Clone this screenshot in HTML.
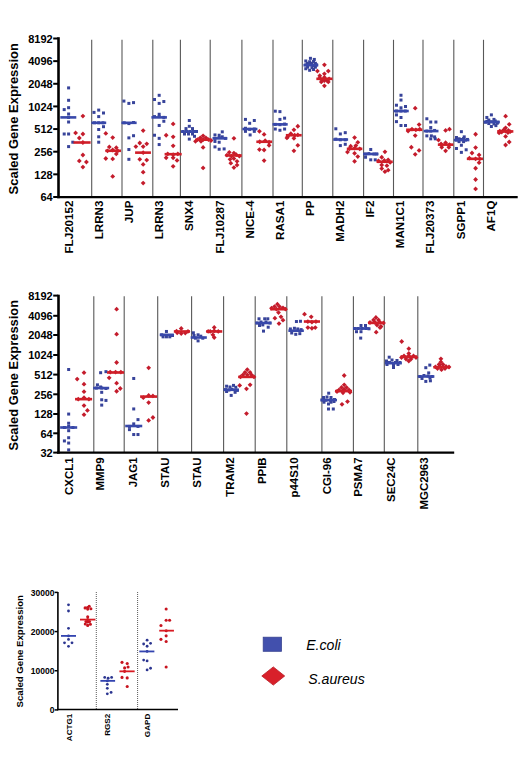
<!DOCTYPE html>
<html><head><meta charset="utf-8"><style>
html,body{margin:0;padding:0;background:#fff;width:520px;height:773px;overflow:hidden;}
svg{display:block;font-family:"Liberation Sans",sans-serif;}
</style></head><body>
<svg width="520" height="773" viewBox="0 0 520 773" font-family="Liberation Sans, sans-serif">
<rect width="520" height="773" fill="#fff"/>
<line x1="91.70" y1="39.80" x2="91.70" y2="197.00" stroke="#585858" stroke-width="1.1" />
<line x1="122.00" y1="39.80" x2="122.00" y2="197.00" stroke="#585858" stroke-width="1.1" />
<line x1="152.80" y1="39.80" x2="152.80" y2="197.00" stroke="#585858" stroke-width="1.1" />
<line x1="180.40" y1="39.80" x2="180.40" y2="197.00" stroke="#585858" stroke-width="1.1" />
<line x1="210.20" y1="39.80" x2="210.20" y2="197.00" stroke="#585858" stroke-width="1.1" />
<line x1="241.90" y1="39.80" x2="241.90" y2="197.00" stroke="#585858" stroke-width="1.1" />
<line x1="273.00" y1="39.80" x2="273.00" y2="197.00" stroke="#585858" stroke-width="1.1" />
<line x1="302.30" y1="39.80" x2="302.30" y2="197.00" stroke="#585858" stroke-width="1.1" />
<line x1="332.80" y1="39.80" x2="332.80" y2="197.00" stroke="#585858" stroke-width="1.1" />
<line x1="363.60" y1="39.80" x2="363.60" y2="197.00" stroke="#585858" stroke-width="1.1" />
<line x1="393.50" y1="39.80" x2="393.50" y2="197.00" stroke="#585858" stroke-width="1.1" />
<line x1="423.00" y1="39.80" x2="423.00" y2="197.00" stroke="#585858" stroke-width="1.1" />
<line x1="453.80" y1="39.80" x2="453.80" y2="197.00" stroke="#585858" stroke-width="1.1" />
<line x1="483.50" y1="39.80" x2="483.50" y2="197.00" stroke="#585858" stroke-width="1.1" />
<rect x="67.10" y="86.40" width="3.0" height="3.0" fill="#37439a"/>
<rect x="67.10" y="98.80" width="3.0" height="3.0" fill="#37439a"/>
<rect x="62.70" y="108.10" width="3.0" height="3.0" fill="#37439a"/>
<rect x="67.10" y="106.20" width="3.0" height="3.0" fill="#37439a"/>
<rect x="67.10" y="112.50" width="3.0" height="3.0" fill="#37439a"/>
<rect x="67.10" y="115.90" width="3.0" height="3.0" fill="#37439a"/>
<rect x="67.10" y="120.50" width="3.0" height="3.0" fill="#37439a"/>
<rect x="62.70" y="132.50" width="3.0" height="3.0" fill="#37439a"/>
<rect x="67.10" y="132.50" width="3.0" height="3.0" fill="#37439a"/>
<rect x="71.30" y="140.70" width="3.0" height="3.0" fill="#37439a"/>
<rect x="67.10" y="145.10" width="3.0" height="3.0" fill="#37439a"/>
<path d="M82.90 113.70L85.30 116.10L82.90 118.50L80.50 116.10Z" fill="#c41c2c"/>
<path d="M75.60 130.50L78.00 132.90L75.60 135.30L73.20 132.90Z" fill="#c41c2c"/>
<path d="M82.90 131.60L85.30 134.00L82.90 136.40L80.50 134.00Z" fill="#c41c2c"/>
<path d="M79.30 135.60L81.70 138.00L79.30 140.40L76.90 138.00Z" fill="#c41c2c"/>
<path d="M82.90 140.10L85.30 142.50L82.90 144.90L80.50 142.50Z" fill="#c41c2c"/>
<path d="M82.90 152.60L85.30 155.00L82.90 157.40L80.50 155.00Z" fill="#c41c2c"/>
<path d="M79.30 158.50L81.70 160.90L79.30 163.30L76.90 160.90Z" fill="#c41c2c"/>
<path d="M86.40 159.60L88.80 162.00L86.40 164.40L84.00 162.00Z" fill="#c41c2c"/>
<path d="M82.90 164.70L85.30 167.10L82.90 169.50L80.50 167.10Z" fill="#c41c2c"/>
<rect x="97.20" y="108.60" width="3.0" height="3.0" fill="#37439a"/>
<rect x="92.50" y="110.90" width="3.0" height="3.0" fill="#37439a"/>
<rect x="102.00" y="111.50" width="3.0" height="3.0" fill="#37439a"/>
<rect x="97.20" y="115.10" width="3.0" height="3.0" fill="#37439a"/>
<rect x="97.20" y="121.30" width="3.0" height="3.0" fill="#37439a"/>
<rect x="93.00" y="121.30" width="3.0" height="3.0" fill="#37439a"/>
<rect x="101.50" y="121.30" width="3.0" height="3.0" fill="#37439a"/>
<rect x="102.00" y="125.20" width="3.0" height="3.0" fill="#37439a"/>
<rect x="97.20" y="128.00" width="3.0" height="3.0" fill="#37439a"/>
<rect x="97.20" y="135.30" width="3.0" height="3.0" fill="#37439a"/>
<rect x="97.20" y="140.70" width="3.0" height="3.0" fill="#37439a"/>
<path d="M105.80 131.00L108.20 133.40L105.80 135.80L103.40 133.40Z" fill="#c41c2c"/>
<path d="M112.70 135.20L115.10 137.60L112.70 140.00L110.30 137.60Z" fill="#c41c2c"/>
<path d="M109.30 144.50L111.70 146.90L109.30 149.30L106.90 146.90Z" fill="#c41c2c"/>
<path d="M116.30 145.30L118.70 147.70L116.30 150.10L113.90 147.70Z" fill="#c41c2c"/>
<path d="M107.50 148.40L109.90 150.80L107.50 153.20L105.10 150.80Z" fill="#c41c2c"/>
<path d="M112.70 147.60L115.10 150.00L112.70 152.40L110.30 150.00Z" fill="#c41c2c"/>
<path d="M117.80 148.40L120.20 150.80L117.80 153.20L115.40 150.80Z" fill="#c41c2c"/>
<path d="M116.30 151.50L118.70 153.90L116.30 156.30L113.90 153.90Z" fill="#c41c2c"/>
<path d="M105.80 156.10L108.20 158.50L105.80 160.90L103.40 158.50Z" fill="#c41c2c"/>
<path d="M112.70 156.50L115.10 158.90L112.70 161.30L110.30 158.90Z" fill="#c41c2c"/>
<path d="M112.70 174.00L115.10 176.40L112.70 178.80L110.30 176.40Z" fill="#c41c2c"/>
<rect x="122.40" y="99.57" width="3.0" height="3.0" fill="#37439a"/>
<rect x="127.37" y="101.90" width="3.0" height="3.0" fill="#37439a"/>
<rect x="132.03" y="101.12" width="3.0" height="3.0" fill="#37439a"/>
<rect x="122.71" y="121.32" width="3.0" height="3.0" fill="#37439a"/>
<rect x="127.37" y="122.09" width="3.0" height="3.0" fill="#37439a"/>
<rect x="132.03" y="121.00" width="3.0" height="3.0" fill="#37439a"/>
<rect x="127.37" y="136.38" width="3.0" height="3.0" fill="#37439a"/>
<rect x="132.03" y="134.21" width="3.0" height="3.0" fill="#37439a"/>
<rect x="127.37" y="148.03" width="3.0" height="3.0" fill="#37439a"/>
<rect x="127.37" y="157.82" width="3.0" height="3.0" fill="#37439a"/>
<path d="M143.17 128.18L145.57 130.58L143.17 132.98L140.77 130.58Z" fill="#c41c2c"/>
<path d="M139.75 140.61L142.15 143.01L139.75 145.41L137.35 143.01Z" fill="#c41c2c"/>
<path d="M146.74 141.39L149.14 143.79L146.74 146.19L144.34 143.79Z" fill="#c41c2c"/>
<path d="M135.86 144.18L138.26 146.58L135.86 148.98L133.46 146.58Z" fill="#c41c2c"/>
<path d="M143.17 144.18L145.57 146.58L143.17 148.98L140.77 146.58Z" fill="#c41c2c"/>
<path d="M143.17 150.24L145.57 152.64L143.17 155.04L140.77 152.64Z" fill="#c41c2c"/>
<path d="M139.75 156.92L142.15 159.32L139.75 161.72L137.35 159.32Z" fill="#c41c2c"/>
<path d="M146.74 157.70L149.14 160.10L146.74 162.50L144.34 160.10Z" fill="#c41c2c"/>
<path d="M143.17 162.05L145.57 164.45L143.17 166.85L140.77 164.45Z" fill="#c41c2c"/>
<path d="M143.17 169.81L145.57 172.21L143.17 174.61L140.77 172.21Z" fill="#c41c2c"/>
<path d="M143.17 180.69L145.57 183.09L143.17 185.49L140.77 183.09Z" fill="#c41c2c"/>
<rect x="157.67" y="93.82" width="3.0" height="3.0" fill="#37439a"/>
<rect x="153.00" y="98.01" width="3.0" height="3.0" fill="#37439a"/>
<rect x="162.33" y="100.03" width="3.0" height="3.0" fill="#37439a"/>
<rect x="157.67" y="101.90" width="3.0" height="3.0" fill="#37439a"/>
<rect x="157.67" y="112.77" width="3.0" height="3.0" fill="#37439a"/>
<rect x="153.00" y="115.10" width="3.0" height="3.0" fill="#37439a"/>
<rect x="157.67" y="115.10" width="3.0" height="3.0" fill="#37439a"/>
<rect x="162.33" y="115.88" width="3.0" height="3.0" fill="#37439a"/>
<rect x="162.33" y="119.76" width="3.0" height="3.0" fill="#37439a"/>
<rect x="157.67" y="123.96" width="3.0" height="3.0" fill="#37439a"/>
<rect x="153.00" y="133.74" width="3.0" height="3.0" fill="#37439a"/>
<rect x="157.67" y="136.85" width="3.0" height="3.0" fill="#37439a"/>
<rect x="157.67" y="143.06" width="3.0" height="3.0" fill="#37439a"/>
<path d="M173.15 121.50L175.55 123.90L173.15 126.30L170.75 123.90Z" fill="#c41c2c"/>
<path d="M166.16 132.84L168.56 135.24L166.16 137.64L163.76 135.24Z" fill="#c41c2c"/>
<path d="M173.15 134.40L175.55 136.80L173.15 139.20L170.75 136.80Z" fill="#c41c2c"/>
<path d="M173.15 143.41L175.55 145.81L173.15 148.21L170.75 145.81Z" fill="#c41c2c"/>
<path d="M167.71 151.48L170.11 153.88L167.71 156.28L165.31 153.88Z" fill="#c41c2c"/>
<path d="M173.15 152.26L175.55 154.66L173.15 157.06L170.75 154.66Z" fill="#c41c2c"/>
<path d="M177.81 151.48L180.21 153.88L177.81 156.28L175.41 153.88Z" fill="#c41c2c"/>
<path d="M166.16 155.37L168.56 157.77L166.16 160.17L163.76 157.77Z" fill="#c41c2c"/>
<path d="M173.15 155.37L175.55 157.77L173.15 160.17L170.75 157.77Z" fill="#c41c2c"/>
<path d="M177.03 158.01L179.43 160.41L177.03 162.81L174.63 160.41Z" fill="#c41c2c"/>
<path d="M173.15 163.91L175.55 166.31L173.15 168.71L170.75 166.31Z" fill="#c41c2c"/>
<rect x="187.80" y="119.00" width="3.0" height="3.0" fill="#37439a"/>
<rect x="187.80" y="124.80" width="3.0" height="3.0" fill="#37439a"/>
<rect x="184.50" y="127.10" width="3.0" height="3.0" fill="#37439a"/>
<rect x="191.00" y="127.10" width="3.0" height="3.0" fill="#37439a"/>
<rect x="181.50" y="130.00" width="3.0" height="3.0" fill="#37439a"/>
<rect x="185.00" y="130.00" width="3.0" height="3.0" fill="#37439a"/>
<rect x="188.50" y="130.00" width="3.0" height="3.0" fill="#37439a"/>
<rect x="192.00" y="130.00" width="3.0" height="3.0" fill="#37439a"/>
<rect x="195.00" y="130.00" width="3.0" height="3.0" fill="#37439a"/>
<rect x="183.00" y="132.50" width="3.0" height="3.0" fill="#37439a"/>
<rect x="187.00" y="132.50" width="3.0" height="3.0" fill="#37439a"/>
<rect x="191.00" y="132.50" width="3.0" height="3.0" fill="#37439a"/>
<rect x="193.00" y="134.80" width="3.0" height="3.0" fill="#37439a"/>
<rect x="187.80" y="137.60" width="3.0" height="3.0" fill="#37439a"/>
<path d="M203.10 133.40L205.50 135.80L203.10 138.20L200.70 135.80Z" fill="#c41c2c"/>
<path d="M200.30 135.40L202.70 137.80L200.30 140.20L197.90 137.80Z" fill="#c41c2c"/>
<path d="M205.90 135.40L208.30 137.80L205.90 140.20L203.50 137.80Z" fill="#c41c2c"/>
<path d="M197.50 137.30L199.90 139.70L197.50 142.10L195.10 139.70Z" fill="#c41c2c"/>
<path d="M203.10 137.30L205.50 139.70L203.10 142.10L200.70 139.70Z" fill="#c41c2c"/>
<path d="M208.50 137.30L210.90 139.70L208.50 142.10L206.10 139.70Z" fill="#c41c2c"/>
<path d="M195.50 138.90L197.90 141.30L195.50 143.70L193.10 141.30Z" fill="#c41c2c"/>
<path d="M211.00 138.10L213.40 140.50L211.00 142.90L208.60 140.50Z" fill="#c41c2c"/>
<path d="M201.00 138.90L203.40 141.30L201.00 143.70L198.60 141.30Z" fill="#c41c2c"/>
<path d="M203.10 145.00L205.50 147.40L203.10 149.80L200.70 147.40Z" fill="#c41c2c"/>
<path d="M203.10 165.50L205.50 167.90L203.10 170.30L200.70 167.90Z" fill="#c41c2c"/>
<rect x="220.77" y="130.33" width="3.0" height="3.0" fill="#37439a"/>
<rect x="213.47" y="133.43" width="3.0" height="3.0" fill="#37439a"/>
<rect x="217.67" y="133.74" width="3.0" height="3.0" fill="#37439a"/>
<rect x="213.47" y="136.85" width="3.0" height="3.0" fill="#37439a"/>
<rect x="217.67" y="136.07" width="3.0" height="3.0" fill="#37439a"/>
<rect x="220.77" y="135.30" width="3.0" height="3.0" fill="#37439a"/>
<rect x="223.88" y="136.85" width="3.0" height="3.0" fill="#37439a"/>
<rect x="213.47" y="139.96" width="3.0" height="3.0" fill="#37439a"/>
<rect x="217.67" y="140.73" width="3.0" height="3.0" fill="#37439a"/>
<rect x="213.47" y="145.39" width="3.0" height="3.0" fill="#37439a"/>
<rect x="217.67" y="147.72" width="3.0" height="3.0" fill="#37439a"/>
<rect x="222.64" y="147.41" width="3.0" height="3.0" fill="#37439a"/>
<path d="M233.92 135.95L236.32 138.35L233.92 140.75L231.52 138.35Z" fill="#c41c2c"/>
<path d="M229.26 149.93L231.66 152.33L229.26 154.73L226.86 152.33Z" fill="#c41c2c"/>
<path d="M233.92 150.71L236.32 153.11L233.92 155.51L231.52 153.11Z" fill="#c41c2c"/>
<path d="M226.93 152.73L229.33 155.13L226.93 157.53L224.53 155.13Z" fill="#c41c2c"/>
<path d="M231.59 153.81L233.99 156.21L231.59 158.61L229.19 156.21Z" fill="#c41c2c"/>
<path d="M236.25 152.26L238.65 154.66L236.25 157.06L233.85 154.66Z" fill="#c41c2c"/>
<path d="M239.36 153.81L241.76 156.21L239.36 158.61L236.96 156.21Z" fill="#c41c2c"/>
<path d="M230.04 156.92L232.44 159.32L230.04 161.72L227.64 159.32Z" fill="#c41c2c"/>
<path d="M233.92 156.14L236.32 158.54L233.92 160.94L231.52 158.54Z" fill="#c41c2c"/>
<path d="M237.03 158.94L239.43 161.34L237.03 163.74L234.63 161.34Z" fill="#c41c2c"/>
<path d="M230.82 160.80L233.22 163.20L230.82 165.60L228.42 163.20Z" fill="#c41c2c"/>
<path d="M233.92 165.15L236.32 167.55L233.92 169.95L231.52 167.55Z" fill="#c41c2c"/>
<path d="M237.03 162.67L239.43 165.07L237.03 167.47L234.63 165.07Z" fill="#c41c2c"/>
<rect x="243.96" y="117.90" width="3.0" height="3.0" fill="#37439a"/>
<rect x="252.81" y="118.99" width="3.0" height="3.0" fill="#37439a"/>
<rect x="248.15" y="121.78" width="3.0" height="3.0" fill="#37439a"/>
<rect x="243.96" y="126.75" width="3.0" height="3.0" fill="#37439a"/>
<rect x="248.15" y="127.84" width="3.0" height="3.0" fill="#37439a"/>
<rect x="252.81" y="127.53" width="3.0" height="3.0" fill="#37439a"/>
<rect x="243.96" y="129.86" width="3.0" height="3.0" fill="#37439a"/>
<rect x="252.81" y="129.86" width="3.0" height="3.0" fill="#37439a"/>
<rect x="248.62" y="133.43" width="3.0" height="3.0" fill="#37439a"/>
<path d="M259.44 128.96L261.84 131.36L259.44 133.76L257.04 131.36Z" fill="#c41c2c"/>
<path d="M264.10 132.07L266.50 134.47L264.10 136.87L261.70 134.47Z" fill="#c41c2c"/>
<path d="M259.75 139.37L262.15 141.77L259.75 144.17L257.35 141.77Z" fill="#c41c2c"/>
<path d="M265.18 138.28L267.58 140.68L265.18 143.08L262.78 140.68Z" fill="#c41c2c"/>
<path d="M269.07 139.83L271.47 142.23L269.07 144.63L266.67 142.23Z" fill="#c41c2c"/>
<path d="M269.07 142.94L271.47 145.34L269.07 147.74L266.67 145.34Z" fill="#c41c2c"/>
<path d="M259.44 147.13L261.84 149.53L259.44 151.93L257.04 149.53Z" fill="#c41c2c"/>
<path d="M264.10 147.60L266.50 150.00L264.10 152.40L261.70 150.00Z" fill="#c41c2c"/>
<path d="M264.10 158.16L266.50 160.56L264.10 162.96L261.70 160.56Z" fill="#c41c2c"/>
<rect x="273.78" y="109.67" width="3.0" height="3.0" fill="#37439a"/>
<rect x="278.44" y="110.13" width="3.0" height="3.0" fill="#37439a"/>
<rect x="278.44" y="117.90" width="3.0" height="3.0" fill="#37439a"/>
<rect x="283.10" y="116.66" width="3.0" height="3.0" fill="#37439a"/>
<rect x="273.78" y="122.87" width="3.0" height="3.0" fill="#37439a"/>
<rect x="278.44" y="123.18" width="3.0" height="3.0" fill="#37439a"/>
<rect x="283.10" y="122.56" width="3.0" height="3.0" fill="#37439a"/>
<rect x="273.78" y="127.53" width="3.0" height="3.0" fill="#37439a"/>
<rect x="278.44" y="128.77" width="3.0" height="3.0" fill="#37439a"/>
<rect x="283.10" y="127.53" width="3.0" height="3.0" fill="#37439a"/>
<path d="M297.81 123.83L300.21 126.23L297.81 128.63L295.41 126.23Z" fill="#c41c2c"/>
<path d="M293.92 127.41L296.32 129.81L293.92 132.21L291.52 129.81Z" fill="#c41c2c"/>
<path d="M287.71 134.40L290.11 136.80L287.71 139.20L285.31 136.80Z" fill="#c41c2c"/>
<path d="M290.82 131.29L293.22 133.69L290.82 136.09L288.42 133.69Z" fill="#c41c2c"/>
<path d="M294.70 132.84L297.10 135.24L294.70 137.64L292.30 135.24Z" fill="#c41c2c"/>
<path d="M297.81 132.53L300.21 134.93L297.81 137.33L295.41 134.93Z" fill="#c41c2c"/>
<path d="M286.93 135.48L289.33 137.88L286.93 140.28L284.53 137.88Z" fill="#c41c2c"/>
<path d="M293.92 135.95L296.32 138.35L293.92 140.75L291.52 138.35Z" fill="#c41c2c"/>
<path d="M297.81 142.94L300.21 145.34L297.81 147.74L295.41 145.34Z" fill="#c41c2c"/>
<path d="M293.92 148.38L296.32 150.78L293.92 153.18L291.52 150.78Z" fill="#c41c2c"/>
<rect x="308.93" y="56.83" width="3.0" height="3.0" fill="#37439a"/>
<rect x="312.81" y="57.92" width="3.0" height="3.0" fill="#37439a"/>
<rect x="304.27" y="59.47" width="3.0" height="3.0" fill="#37439a"/>
<rect x="308.15" y="60.25" width="3.0" height="3.0" fill="#37439a"/>
<rect x="312.03" y="59.94" width="3.0" height="3.0" fill="#37439a"/>
<rect x="304.27" y="63.35" width="3.0" height="3.0" fill="#37439a"/>
<rect x="308.15" y="63.04" width="3.0" height="3.0" fill="#37439a"/>
<rect x="312.03" y="64.13" width="3.0" height="3.0" fill="#37439a"/>
<rect x="315.14" y="63.35" width="3.0" height="3.0" fill="#37439a"/>
<rect x="304.27" y="67.24" width="3.0" height="3.0" fill="#37439a"/>
<rect x="308.15" y="68.79" width="3.0" height="3.0" fill="#37439a"/>
<rect x="312.03" y="68.01" width="3.0" height="3.0" fill="#37439a"/>
<rect x="305.82" y="61.80" width="3.0" height="3.0" fill="#37439a"/>
<rect x="310.48" y="61.80" width="3.0" height="3.0" fill="#37439a"/>
<rect x="313.90" y="61.80" width="3.0" height="3.0" fill="#37439a"/>
<rect x="306.13" y="65.68" width="3.0" height="3.0" fill="#37439a"/>
<rect x="310.48" y="66.15" width="3.0" height="3.0" fill="#37439a"/>
<rect x="313.90" y="65.68" width="3.0" height="3.0" fill="#37439a"/>
<path d="M324.41 62.45L326.81 64.85L324.41 67.25L322.01 64.85Z" fill="#c41c2c"/>
<path d="M317.42 68.67L319.82 71.07L317.42 73.47L315.02 71.07Z" fill="#c41c2c"/>
<path d="M328.29 68.67L330.69 71.07L328.29 73.47L325.89 71.07Z" fill="#c41c2c"/>
<path d="M324.41 71.46L326.81 73.86L324.41 76.26L322.01 73.86Z" fill="#c41c2c"/>
<path d="M319.75 75.66L322.15 78.06L319.75 80.46L317.35 78.06Z" fill="#c41c2c"/>
<path d="M324.41 74.88L326.81 77.28L324.41 79.68L322.01 77.28Z" fill="#c41c2c"/>
<path d="M329.07 76.43L331.47 78.83L329.07 81.23L326.67 78.83Z" fill="#c41c2c"/>
<path d="M321.30 79.54L323.70 81.94L321.30 84.34L318.90 81.94Z" fill="#c41c2c"/>
<path d="M328.29 79.54L330.69 81.94L328.29 84.34L325.89 81.94Z" fill="#c41c2c"/>
<path d="M324.41 83.43L326.81 85.83L324.41 88.23L322.01 85.83Z" fill="#c41c2c"/>
<path d="M322.08 77.68L324.48 80.08L322.08 82.48L319.68 80.08Z" fill="#c41c2c"/>
<path d="M326.74 77.68L329.14 80.08L326.74 82.48L324.34 80.08Z" fill="#c41c2c"/>
<path d="M324.41 78.30L326.81 80.70L324.41 83.10L322.01 80.70Z" fill="#c41c2c"/>
<path d="M319.75 73.33L322.15 75.73L319.75 78.13L317.35 75.73Z" fill="#c41c2c"/>
<rect x="334.32" y="127.29" width="3.0" height="3.0" fill="#37439a"/>
<rect x="338.84" y="132.46" width="3.0" height="3.0" fill="#37439a"/>
<rect x="343.76" y="131.17" width="3.0" height="3.0" fill="#37439a"/>
<rect x="334.32" y="137.63" width="3.0" height="3.0" fill="#37439a"/>
<rect x="338.84" y="138.28" width="3.0" height="3.0" fill="#37439a"/>
<rect x="343.76" y="138.28" width="3.0" height="3.0" fill="#37439a"/>
<rect x="338.84" y="144.10" width="3.0" height="3.0" fill="#37439a"/>
<rect x="343.76" y="142.81" width="3.0" height="3.0" fill="#37439a"/>
<path d="M354.57 135.18L356.97 137.58L354.57 139.98L352.17 137.58Z" fill="#c41c2c"/>
<path d="M357.80 139.97L360.20 142.37L357.80 144.77L355.40 142.37Z" fill="#c41c2c"/>
<path d="M350.69 143.85L353.09 146.25L350.69 148.65L348.29 146.25Z" fill="#c41c2c"/>
<path d="M355.86 143.20L358.26 145.60L355.86 148.00L353.46 145.60Z" fill="#c41c2c"/>
<path d="M349.39 146.43L351.79 148.83L349.39 151.23L346.99 148.83Z" fill="#c41c2c"/>
<path d="M354.57 145.78L356.97 148.18L354.57 150.58L352.17 148.18Z" fill="#c41c2c"/>
<path d="M359.74 146.43L362.14 148.83L359.74 151.23L357.34 148.83Z" fill="#c41c2c"/>
<path d="M347.46 149.66L349.86 152.06L347.46 154.46L345.06 152.06Z" fill="#c41c2c"/>
<path d="M354.57 150.96L356.97 153.36L354.57 155.76L352.17 153.36Z" fill="#c41c2c"/>
<path d="M357.80 154.19L360.20 156.59L357.80 158.99L355.40 156.59Z" fill="#c41c2c"/>
<path d="M354.57 158.97L356.97 161.37L354.57 163.77L352.17 161.37Z" fill="#c41c2c"/>
<rect x="369.23" y="147.98" width="3.0" height="3.0" fill="#37439a"/>
<rect x="364.06" y="152.50" width="3.0" height="3.0" fill="#37439a"/>
<rect x="367.29" y="152.12" width="3.0" height="3.0" fill="#37439a"/>
<rect x="372.46" y="152.50" width="3.0" height="3.0" fill="#37439a"/>
<rect x="375.05" y="152.50" width="3.0" height="3.0" fill="#37439a"/>
<rect x="364.06" y="155.74" width="3.0" height="3.0" fill="#37439a"/>
<rect x="369.23" y="158.32" width="3.0" height="3.0" fill="#37439a"/>
<rect x="373.75" y="158.32" width="3.0" height="3.0" fill="#37439a"/>
<path d="M384.95 149.41L387.35 151.81L384.95 154.21L382.55 151.81Z" fill="#c41c2c"/>
<path d="M381.72 154.84L384.12 157.24L381.72 159.64L379.32 157.24Z" fill="#c41c2c"/>
<path d="M378.49 158.46L380.89 160.86L378.49 163.26L376.09 160.86Z" fill="#c41c2c"/>
<path d="M384.31 158.07L386.71 160.47L384.31 162.87L381.91 160.47Z" fill="#c41c2c"/>
<path d="M388.18 157.42L390.58 159.82L388.18 162.22L385.78 159.82Z" fill="#c41c2c"/>
<path d="M390.12 160.01L392.52 162.41L390.12 164.81L387.72 162.41Z" fill="#c41c2c"/>
<path d="M381.72 162.59L384.12 164.99L381.72 167.39L379.32 164.99Z" fill="#c41c2c"/>
<path d="M386.89 163.24L389.29 165.64L386.89 168.04L384.49 165.64Z" fill="#c41c2c"/>
<path d="M381.72 166.21L384.12 168.61L381.72 171.01L379.32 168.61Z" fill="#c41c2c"/>
<path d="M388.18 167.77L390.58 170.17L388.18 172.57L385.78 170.17Z" fill="#c41c2c"/>
<path d="M384.95 169.32L387.35 171.72L384.95 174.12L382.55 171.72Z" fill="#c41c2c"/>
<rect x="399.49" y="93.76" width="3.0" height="3.0" fill="#37439a"/>
<rect x="399.49" y="98.54" width="3.0" height="3.0" fill="#37439a"/>
<rect x="394.96" y="103.71" width="3.0" height="3.0" fill="#37439a"/>
<rect x="404.02" y="105.01" width="3.0" height="3.0" fill="#37439a"/>
<rect x="399.49" y="106.30" width="3.0" height="3.0" fill="#37439a"/>
<rect x="394.96" y="109.53" width="3.0" height="3.0" fill="#37439a"/>
<rect x="399.49" y="109.53" width="3.0" height="3.0" fill="#37439a"/>
<rect x="403.76" y="109.53" width="3.0" height="3.0" fill="#37439a"/>
<rect x="394.96" y="113.41" width="3.0" height="3.0" fill="#37439a"/>
<rect x="399.49" y="116.00" width="3.0" height="3.0" fill="#37439a"/>
<rect x="394.96" y="120.13" width="3.0" height="3.0" fill="#37439a"/>
<rect x="399.49" y="124.01" width="3.0" height="3.0" fill="#37439a"/>
<rect x="404.02" y="124.01" width="3.0" height="3.0" fill="#37439a"/>
<path d="M415.21 105.79L417.61 108.19L415.21 110.59L412.81 108.19Z" fill="#c41c2c"/>
<path d="M419.09 122.21L421.49 124.61L419.09 127.01L416.69 124.61Z" fill="#c41c2c"/>
<path d="M408.10 128.67L410.50 131.07L408.10 133.47L405.70 131.07Z" fill="#c41c2c"/>
<path d="M411.98 126.73L414.38 129.13L411.98 131.53L409.58 129.13Z" fill="#c41c2c"/>
<path d="M415.86 127.38L418.26 129.78L415.86 132.18L413.46 129.78Z" fill="#c41c2c"/>
<path d="M419.74 126.73L422.14 129.13L419.74 131.53L417.34 129.13Z" fill="#c41c2c"/>
<path d="M415.21 133.20L417.61 135.60L415.21 138.00L412.81 135.60Z" fill="#c41c2c"/>
<path d="M411.33 144.84L413.73 147.24L411.33 149.64L408.93 147.24Z" fill="#c41c2c"/>
<path d="M419.09 148.07L421.49 150.47L419.09 152.87L416.69 150.47Z" fill="#c41c2c"/>
<path d="M415.21 151.95L417.61 154.35L415.21 156.75L412.81 154.35Z" fill="#c41c2c"/>
<rect x="425.35" y="117.29" width="3.0" height="3.0" fill="#37439a"/>
<rect x="429.23" y="120.52" width="3.0" height="3.0" fill="#37439a"/>
<rect x="434.40" y="120.52" width="3.0" height="3.0" fill="#37439a"/>
<rect x="429.23" y="126.08" width="3.0" height="3.0" fill="#37439a"/>
<rect x="425.35" y="129.57" width="3.0" height="3.0" fill="#37439a"/>
<rect x="429.23" y="129.57" width="3.0" height="3.0" fill="#37439a"/>
<rect x="433.11" y="128.93" width="3.0" height="3.0" fill="#37439a"/>
<rect x="425.35" y="134.36" width="3.0" height="3.0" fill="#37439a"/>
<rect x="429.88" y="134.36" width="3.0" height="3.0" fill="#37439a"/>
<rect x="433.11" y="135.39" width="3.0" height="3.0" fill="#37439a"/>
<rect x="429.23" y="137.33" width="3.0" height="3.0" fill="#37439a"/>
<rect x="433.75" y="137.33" width="3.0" height="3.0" fill="#37439a"/>
<path d="M445.60 128.03L448.00 130.43L445.60 132.83L443.20 130.43Z" fill="#c41c2c"/>
<path d="M449.48 126.73L451.88 129.13L449.48 131.53L447.08 129.13Z" fill="#c41c2c"/>
<path d="M438.49 137.72L440.89 140.12L438.49 142.52L436.09 140.12Z" fill="#c41c2c"/>
<path d="M441.07 141.60L443.47 144.00L441.07 146.40L438.67 144.00Z" fill="#c41c2c"/>
<path d="M445.60 140.31L448.00 142.71L445.60 145.11L443.20 142.71Z" fill="#c41c2c"/>
<path d="M449.48 142.25L451.88 144.65L449.48 147.05L447.08 144.65Z" fill="#c41c2c"/>
<path d="M441.72 144.84L444.12 147.24L441.72 149.64L439.32 147.24Z" fill="#c41c2c"/>
<path d="M448.83 144.84L451.23 147.24L448.83 149.64L446.43 147.24Z" fill="#c41c2c"/>
<path d="M445.60 148.46L448.00 150.86L445.60 153.26L443.20 150.86Z" fill="#c41c2c"/>
<rect x="459.88" y="130.18" width="3.0" height="3.0" fill="#37439a"/>
<rect x="454.96" y="136.00" width="3.0" height="3.0" fill="#37439a"/>
<rect x="462.72" y="135.35" width="3.0" height="3.0" fill="#37439a"/>
<rect x="454.96" y="138.58" width="3.0" height="3.0" fill="#37439a"/>
<rect x="459.88" y="137.94" width="3.0" height="3.0" fill="#37439a"/>
<rect x="464.02" y="138.58" width="3.0" height="3.0" fill="#37439a"/>
<rect x="459.88" y="143.75" width="3.0" height="3.0" fill="#37439a"/>
<rect x="454.96" y="146.99" width="3.0" height="3.0" fill="#37439a"/>
<rect x="464.66" y="148.28" width="3.0" height="3.0" fill="#37439a"/>
<rect x="459.88" y="150.87" width="3.0" height="3.0" fill="#37439a"/>
<rect x="457.55" y="137.29" width="3.0" height="3.0" fill="#37439a"/>
<rect x="462.08" y="137.03" width="3.0" height="3.0" fill="#37439a"/>
<rect x="457.55" y="140.13" width="3.0" height="3.0" fill="#37439a"/>
<rect x="462.08" y="140.13" width="3.0" height="3.0" fill="#37439a"/>
<rect x="465.96" y="137.94" width="3.0" height="3.0" fill="#37439a"/>
<path d="M475.60 131.86L478.00 134.26L475.60 136.66L473.20 134.26Z" fill="#c41c2c"/>
<path d="M475.60 145.18L478.00 147.58L475.60 149.98L473.20 147.58Z" fill="#c41c2c"/>
<path d="M471.98 150.61L474.38 153.01L471.98 155.41L469.58 153.01Z" fill="#c41c2c"/>
<path d="M479.09 152.55L481.49 154.95L479.09 157.35L476.69 154.95Z" fill="#c41c2c"/>
<path d="M469.39 155.78L471.79 158.18L469.39 160.58L466.99 158.18Z" fill="#c41c2c"/>
<path d="M475.60 156.43L478.00 158.83L475.60 161.23L473.20 158.83Z" fill="#c41c2c"/>
<path d="M479.74 156.43L482.14 158.83L479.74 161.23L477.34 158.83Z" fill="#c41c2c"/>
<path d="M479.09 160.31L481.49 162.71L479.09 165.11L476.69 162.71Z" fill="#c41c2c"/>
<path d="M475.60 165.87L478.00 168.27L475.60 170.67L473.20 168.27Z" fill="#c41c2c"/>
<path d="M475.60 177.12L478.00 179.52L475.60 181.92L473.20 179.52Z" fill="#c41c2c"/>
<path d="M475.60 186.56L478.00 188.96L475.60 191.36L473.20 188.96Z" fill="#c41c2c"/>
<rect x="489.88" y="113.37" width="3.0" height="3.0" fill="#37439a"/>
<rect x="485.35" y="115.96" width="3.0" height="3.0" fill="#37439a"/>
<rect x="485.35" y="119.83" width="3.0" height="3.0" fill="#37439a"/>
<rect x="489.88" y="120.22" width="3.0" height="3.0" fill="#37439a"/>
<rect x="493.75" y="119.45" width="3.0" height="3.0" fill="#37439a"/>
<rect x="496.34" y="120.74" width="3.0" height="3.0" fill="#37439a"/>
<rect x="489.88" y="125.01" width="3.0" height="3.0" fill="#37439a"/>
<rect x="494.40" y="124.10" width="3.0" height="3.0" fill="#37439a"/>
<rect x="487.29" y="118.54" width="3.0" height="3.0" fill="#37439a"/>
<rect x="492.46" y="117.89" width="3.0" height="3.0" fill="#37439a"/>
<rect x="487.29" y="122.03" width="3.0" height="3.0" fill="#37439a"/>
<rect x="492.46" y="122.42" width="3.0" height="3.0" fill="#37439a"/>
<rect x="495.69" y="121.77" width="3.0" height="3.0" fill="#37439a"/>
<rect x="484.06" y="120.74" width="3.0" height="3.0" fill="#37439a"/>
<path d="M505.60 113.76L508.00 116.16L505.60 118.56L503.20 116.16Z" fill="#c41c2c"/>
<path d="M509.22 121.91L511.62 124.31L509.22 126.71L506.82 124.31Z" fill="#c41c2c"/>
<path d="M505.60 125.40L508.00 127.80L505.60 130.20L503.20 127.80Z" fill="#c41c2c"/>
<path d="M499.13 130.57L501.53 132.97L499.13 135.37L496.73 132.97Z" fill="#c41c2c"/>
<path d="M505.60 128.63L508.00 131.03L505.60 133.43L503.20 131.03Z" fill="#c41c2c"/>
<path d="M510.12 129.28L512.52 131.68L510.12 134.08L507.72 131.68Z" fill="#c41c2c"/>
<path d="M505.60 134.06L508.00 136.46L505.60 138.86L503.20 136.46Z" fill="#c41c2c"/>
<path d="M509.22 139.62L511.62 142.02L509.22 144.42L506.82 142.02Z" fill="#c41c2c"/>
<path d="M505.60 142.60L508.00 145.00L505.60 147.40L503.20 145.00Z" fill="#c41c2c"/>
<path d="M501.72 129.67L504.12 132.07L501.72 134.47L499.32 132.07Z" fill="#c41c2c"/>
<path d="M507.93 130.18L510.33 132.58L507.93 134.98L505.53 132.58Z" fill="#c41c2c"/>
<path d="M503.66 127.60L506.06 130.00L503.66 132.40L501.26 130.00Z" fill="#c41c2c"/>
<path d="M508.44 128.11L510.84 130.51L508.44 132.91L506.04 130.51Z" fill="#c41c2c"/>
<path d="M499.78 128.63L502.18 131.03L499.78 133.43L497.38 131.03Z" fill="#c41c2c"/>
<line x1="60.30" y1="117.40" x2="76.30" y2="117.40" stroke="#3848aa" stroke-width="2.6" />
<line x1="73.50" y1="142.50" x2="90.60" y2="142.50" stroke="#d01e28" stroke-width="2.6" />
<line x1="91.40" y1="122.80" x2="106.20" y2="122.80" stroke="#3848aa" stroke-width="2.6" />
<line x1="105.40" y1="150.80" x2="121.00" y2="150.80" stroke="#d01e28" stroke-width="2.6" />
<line x1="121.42" y1="122.82" x2="136.64" y2="122.82" stroke="#3848aa" stroke-width="2.6" />
<line x1="135.09" y1="152.64" x2="150.93" y2="152.64" stroke="#d01e28" stroke-width="2.6" />
<line x1="151.40" y1="117.38" x2="166.93" y2="117.38" stroke="#3848aa" stroke-width="2.6" />
<line x1="164.60" y1="154.19" x2="181.69" y2="154.19" stroke="#d01e28" stroke-width="2.6" />
<line x1="181.00" y1="131.60" x2="197.50" y2="131.60" stroke="#3848aa" stroke-width="2.6" />
<line x1="195.20" y1="139.70" x2="210.50" y2="139.70" stroke="#d01e28" stroke-width="2.6" />
<line x1="212.49" y1="138.35" x2="227.40" y2="138.35" stroke="#3848aa" stroke-width="2.6" />
<line x1="225.38" y1="155.44" x2="241.69" y2="155.44" stroke="#d01e28" stroke-width="2.6" />
<line x1="242.35" y1="129.03" x2="257.42" y2="129.03" stroke="#3848aa" stroke-width="2.6" />
<line x1="256.33" y1="141.77" x2="272.17" y2="141.77" stroke="#d01e28" stroke-width="2.6" />
<line x1="272.49" y1="124.37" x2="287.71" y2="124.37" stroke="#3848aa" stroke-width="2.6" />
<line x1="285.84" y1="135.24" x2="301.69" y2="135.24" stroke="#d01e28" stroke-width="2.6" />
<line x1="303.44" y1="65.17" x2="318.19" y2="65.17" stroke="#3848aa" stroke-width="2.6" />
<line x1="316.33" y1="78.83" x2="332.49" y2="78.83" stroke="#d01e28" stroke-width="2.6" />
<line x1="333.23" y1="139.52" x2="348.10" y2="139.52" stroke="#3848aa" stroke-width="2.6" />
<line x1="346.81" y1="148.83" x2="362.32" y2="148.83" stroke="#d01e28" stroke-width="2.6" />
<line x1="362.97" y1="154.00" x2="378.49" y2="154.00" stroke="#3848aa" stroke-width="2.6" />
<line x1="376.55" y1="161.76" x2="392.71" y2="161.76" stroke="#d01e28" stroke-width="2.6" />
<line x1="393.62" y1="111.03" x2="408.75" y2="111.03" stroke="#3848aa" stroke-width="2.6" />
<line x1="406.16" y1="129.78" x2="422.32" y2="129.78" stroke="#d01e28" stroke-width="2.6" />
<line x1="423.62" y1="131.07" x2="438.49" y2="131.07" stroke="#3848aa" stroke-width="2.6" />
<line x1="437.84" y1="144.65" x2="453.36" y2="144.65" stroke="#d01e28" stroke-width="2.6" />
<line x1="453.88" y1="140.08" x2="469.39" y2="140.08" stroke="#3848aa" stroke-width="2.6" />
<line x1="466.81" y1="158.83" x2="482.97" y2="158.83" stroke="#d01e28" stroke-width="2.6" />
<line x1="483.62" y1="121.98" x2="499.78" y2="121.98" stroke="#3848aa" stroke-width="2.6" />
<line x1="497.19" y1="131.42" x2="513.36" y2="131.42" stroke="#d01e28" stroke-width="2.6" />
<line x1="58.50" y1="37.20" x2="58.50" y2="198.20" stroke="#000" stroke-width="2.6" />
<line x1="57.10" y1="197.10" x2="517.70" y2="197.10" stroke="#000" stroke-width="2.2" />
<line x1="53.20" y1="38.50" x2="58.30" y2="38.50" stroke="#000" stroke-width="2" />
<text x="52.70" y="42.80" font-size="11" font-weight="bold" font-style="normal" text-anchor="end" fill="#000">8192</text>
<line x1="53.20" y1="61.14" x2="58.30" y2="61.14" stroke="#000" stroke-width="2" />
<text x="52.70" y="65.44" font-size="11" font-weight="bold" font-style="normal" text-anchor="end" fill="#000">4096</text>
<line x1="53.20" y1="83.78" x2="58.30" y2="83.78" stroke="#000" stroke-width="2" />
<text x="52.70" y="88.08" font-size="11" font-weight="bold" font-style="normal" text-anchor="end" fill="#000">2048</text>
<line x1="53.20" y1="106.42" x2="58.30" y2="106.42" stroke="#000" stroke-width="2" />
<text x="52.70" y="110.72" font-size="11" font-weight="bold" font-style="normal" text-anchor="end" fill="#000">1024</text>
<line x1="53.20" y1="129.06" x2="58.30" y2="129.06" stroke="#000" stroke-width="2" />
<text x="52.70" y="133.36" font-size="11" font-weight="bold" font-style="normal" text-anchor="end" fill="#000">512</text>
<line x1="53.20" y1="151.70" x2="58.30" y2="151.70" stroke="#000" stroke-width="2" />
<text x="52.70" y="156.00" font-size="11" font-weight="bold" font-style="normal" text-anchor="end" fill="#000">256</text>
<line x1="53.20" y1="174.34" x2="58.30" y2="174.34" stroke="#000" stroke-width="2" />
<text x="52.70" y="178.64" font-size="11" font-weight="bold" font-style="normal" text-anchor="end" fill="#000">128</text>
<line x1="53.20" y1="196.98" x2="58.30" y2="196.98" stroke="#000" stroke-width="2" />
<text x="52.70" y="201.28" font-size="11" font-weight="bold" font-style="normal" text-anchor="end" fill="#000">64</text>
<text x="72.90" y="200.60" font-size="11.6" font-weight="bold" font-style="normal" text-anchor="end" fill="#000" transform="rotate(-90 72.90 200.60)">FLJ20152</text>
<text x="103.03" y="200.60" font-size="11.6" font-weight="bold" font-style="normal" text-anchor="end" fill="#000" transform="rotate(-90 103.03 200.60)">LRRN3</text>
<text x="133.16" y="200.60" font-size="11.6" font-weight="bold" font-style="normal" text-anchor="end" fill="#000" transform="rotate(-90 133.16 200.60)">JUP</text>
<text x="163.29" y="200.60" font-size="11.6" font-weight="bold" font-style="normal" text-anchor="end" fill="#000" transform="rotate(-90 163.29 200.60)">LRRN3</text>
<text x="193.42" y="200.60" font-size="11.6" font-weight="bold" font-style="normal" text-anchor="end" fill="#000" transform="rotate(-90 193.42 200.60)">SNX4</text>
<text x="223.55" y="200.60" font-size="11.6" font-weight="bold" font-style="normal" text-anchor="end" fill="#000" transform="rotate(-90 223.55 200.60)">FLJ10287</text>
<text x="253.68" y="200.60" font-size="11.6" font-weight="bold" font-style="normal" text-anchor="end" fill="#000" transform="rotate(-90 253.68 200.60)">NICE-4</text>
<text x="283.81" y="200.60" font-size="11.6" font-weight="bold" font-style="normal" text-anchor="end" fill="#000" transform="rotate(-90 283.81 200.60)">RASA1</text>
<text x="313.94" y="200.60" font-size="11.6" font-weight="bold" font-style="normal" text-anchor="end" fill="#000" transform="rotate(-90 313.94 200.60)">PP</text>
<text x="344.07" y="200.60" font-size="11.6" font-weight="bold" font-style="normal" text-anchor="end" fill="#000" transform="rotate(-90 344.07 200.60)">MADH2</text>
<text x="374.20" y="200.60" font-size="11.6" font-weight="bold" font-style="normal" text-anchor="end" fill="#000" transform="rotate(-90 374.20 200.60)">IF2</text>
<text x="404.33" y="200.60" font-size="11.6" font-weight="bold" font-style="normal" text-anchor="end" fill="#000" transform="rotate(-90 404.33 200.60)">MAN1C1</text>
<text x="434.46" y="200.60" font-size="11.6" font-weight="bold" font-style="normal" text-anchor="end" fill="#000" transform="rotate(-90 434.46 200.60)">FLJ20373</text>
<text x="464.59" y="200.60" font-size="11.6" font-weight="bold" font-style="normal" text-anchor="end" fill="#000" transform="rotate(-90 464.59 200.60)">SGPP1</text>
<text x="494.72" y="200.60" font-size="11.6" font-weight="bold" font-style="normal" text-anchor="end" fill="#000" transform="rotate(-90 494.72 200.60)">AF1Q</text>
<text x="17.80" y="194.40" font-size="12.97" font-weight="bold" font-style="normal" text-anchor="start" fill="#000" transform="rotate(-90 17.80 194.40)">Scaled Gene Expression</text>
<line x1="93.80" y1="296.30" x2="93.80" y2="452.60" stroke="#585858" stroke-width="1.1" />
<line x1="124.20" y1="296.30" x2="124.20" y2="452.60" stroke="#585858" stroke-width="1.1" />
<line x1="157.70" y1="296.30" x2="157.70" y2="452.60" stroke="#585858" stroke-width="1.1" />
<line x1="191.60" y1="296.30" x2="191.60" y2="452.60" stroke="#585858" stroke-width="1.1" />
<line x1="223.60" y1="296.30" x2="223.60" y2="452.60" stroke="#585858" stroke-width="1.1" />
<line x1="255.20" y1="296.30" x2="255.20" y2="452.60" stroke="#585858" stroke-width="1.1" />
<line x1="286.80" y1="296.30" x2="286.80" y2="452.60" stroke="#585858" stroke-width="1.1" />
<line x1="321.90" y1="296.30" x2="321.90" y2="452.60" stroke="#585858" stroke-width="1.1" />
<line x1="353.40" y1="296.30" x2="353.40" y2="452.60" stroke="#585858" stroke-width="1.1" />
<line x1="384.30" y1="296.30" x2="384.30" y2="452.60" stroke="#585858" stroke-width="1.1" />
<line x1="417.80" y1="296.30" x2="417.80" y2="452.60" stroke="#585858" stroke-width="1.1" />
<rect x="67.16" y="368.01" width="3.0" height="3.0" fill="#37439a"/>
<rect x="67.16" y="412.57" width="3.0" height="3.0" fill="#37439a"/>
<rect x="67.16" y="421.73" width="3.0" height="3.0" fill="#37439a"/>
<rect x="62.90" y="426.00" width="3.0" height="3.0" fill="#37439a"/>
<rect x="67.16" y="424.93" width="3.0" height="3.0" fill="#37439a"/>
<rect x="71.42" y="426.00" width="3.0" height="3.0" fill="#37439a"/>
<rect x="67.16" y="429.19" width="3.0" height="3.0" fill="#37439a"/>
<rect x="67.16" y="436.23" width="3.0" height="3.0" fill="#37439a"/>
<rect x="62.90" y="439.43" width="3.0" height="3.0" fill="#37439a"/>
<rect x="67.16" y="441.56" width="3.0" height="3.0" fill="#37439a"/>
<rect x="67.16" y="448.38" width="3.0" height="3.0" fill="#37439a"/>
<path d="M84.01 370.31L86.41 372.71L84.01 375.11L81.61 372.71Z" fill="#c41c2c"/>
<path d="M77.19 376.71L79.59 379.11L77.19 381.51L74.79 379.11Z" fill="#c41c2c"/>
<path d="M84.01 381.82L86.41 384.22L84.01 386.62L81.61 384.22Z" fill="#c41c2c"/>
<path d="M84.01 389.28L86.41 391.68L84.01 394.08L81.61 391.68Z" fill="#c41c2c"/>
<path d="M78.25 396.75L80.65 399.15L78.25 401.55L75.85 399.15Z" fill="#c41c2c"/>
<path d="M84.01 395.25L86.41 397.65L84.01 400.05L81.61 397.65Z" fill="#c41c2c"/>
<path d="M88.91 396.75L91.31 399.15L88.91 401.55L86.51 399.15Z" fill="#c41c2c"/>
<path d="M84.01 403.14L86.41 405.54L84.01 407.94L81.61 405.54Z" fill="#c41c2c"/>
<path d="M87.42 408.04L89.82 410.44L87.42 412.84L85.02 410.44Z" fill="#c41c2c"/>
<path d="M84.01 412.31L86.41 414.71L84.01 417.11L81.61 414.71Z" fill="#c41c2c"/>
<rect x="99.13" y="371.21" width="3.0" height="3.0" fill="#37439a"/>
<rect x="104.46" y="370.15" width="3.0" height="3.0" fill="#37439a"/>
<rect x="95.94" y="383.36" width="3.0" height="3.0" fill="#37439a"/>
<rect x="99.13" y="385.49" width="3.0" height="3.0" fill="#37439a"/>
<rect x="94.87" y="386.56" width="3.0" height="3.0" fill="#37439a"/>
<rect x="100.20" y="386.56" width="3.0" height="3.0" fill="#37439a"/>
<rect x="104.46" y="386.99" width="3.0" height="3.0" fill="#37439a"/>
<rect x="100.20" y="390.82" width="3.0" height="3.0" fill="#37439a"/>
<rect x="100.20" y="398.28" width="3.0" height="3.0" fill="#37439a"/>
<rect x="104.46" y="398.92" width="3.0" height="3.0" fill="#37439a"/>
<rect x="100.20" y="403.61" width="3.0" height="3.0" fill="#37439a"/>
<path d="M116.62 306.79L119.02 309.19L116.62 311.59L114.22 309.19Z" fill="#c41c2c"/>
<path d="M116.62 331.73L119.02 334.13L116.62 336.53L114.22 334.13Z" fill="#c41c2c"/>
<path d="M116.62 360.08L119.02 362.48L116.62 364.88L114.22 362.48Z" fill="#c41c2c"/>
<path d="M110.23 369.67L112.63 372.07L110.23 374.47L107.83 372.07Z" fill="#c41c2c"/>
<path d="M115.56 369.67L117.96 372.07L115.56 374.47L113.16 372.07Z" fill="#c41c2c"/>
<path d="M120.89 369.67L123.29 372.07L120.89 374.47L118.49 372.07Z" fill="#c41c2c"/>
<path d="M109.16 375.43L111.56 377.83L109.16 380.23L106.76 377.83Z" fill="#c41c2c"/>
<path d="M116.62 380.76L119.02 383.16L116.62 385.56L114.22 383.16Z" fill="#c41c2c"/>
<path d="M116.62 388.86L119.02 391.26L116.62 393.66L114.22 391.26Z" fill="#c41c2c"/>
<path d="M120.25 386.09L122.65 388.49L120.25 390.89L117.85 388.49Z" fill="#c41c2c"/>
<rect x="132.22" y="376.97" width="3.0" height="3.0" fill="#37439a"/>
<rect x="132.22" y="407.45" width="3.0" height="3.0" fill="#37439a"/>
<rect x="136.49" y="418.11" width="3.0" height="3.0" fill="#37439a"/>
<rect x="127.96" y="424.93" width="3.0" height="3.0" fill="#37439a"/>
<rect x="132.22" y="422.37" width="3.0" height="3.0" fill="#37439a"/>
<rect x="136.49" y="424.93" width="3.0" height="3.0" fill="#37439a"/>
<rect x="127.96" y="428.13" width="3.0" height="3.0" fill="#37439a"/>
<rect x="132.22" y="433.03" width="3.0" height="3.0" fill="#37439a"/>
<rect x="136.49" y="433.03" width="3.0" height="3.0" fill="#37439a"/>
<path d="M148.65 365.41L151.05 367.81L148.65 370.21L146.25 367.81Z" fill="#c41c2c"/>
<path d="M143.32 395.25L145.72 397.65L143.32 400.05L140.92 397.65Z" fill="#c41c2c"/>
<path d="M148.65 393.12L151.05 395.52L148.65 397.92L146.25 395.52Z" fill="#c41c2c"/>
<path d="M152.91 393.55L155.31 395.95L152.91 398.35L150.51 395.95Z" fill="#c41c2c"/>
<path d="M148.65 400.16L151.05 402.56L148.65 404.96L146.25 402.56Z" fill="#c41c2c"/>
<path d="M148.65 418.06L151.05 420.46L148.65 422.86L146.25 420.46Z" fill="#c41c2c"/>
<path d="M152.91 415.08L155.31 417.48L152.91 419.88L150.51 417.48Z" fill="#c41c2c"/>
<rect x="164.94" y="329.96" width="3.0" height="3.0" fill="#37439a"/>
<rect x="161.58" y="335.34" width="3.0" height="3.0" fill="#37439a"/>
<rect x="164.94" y="335.34" width="3.0" height="3.0" fill="#37439a"/>
<rect x="168.30" y="335.34" width="3.0" height="3.0" fill="#37439a"/>
<rect x="171.00" y="334.00" width="3.0" height="3.0" fill="#37439a"/>
<rect x="160.23" y="333.32" width="3.0" height="3.0" fill="#37439a"/>
<path d="M181.24 326.10L183.64 328.50L181.24 330.90L178.84 328.50Z" fill="#c41c2c"/>
<path d="M177.21 330.40L179.61 332.80L177.21 335.20L174.81 332.80Z" fill="#c41c2c"/>
<path d="M181.24 331.08L183.64 333.48L181.24 335.88L178.84 333.48Z" fill="#c41c2c"/>
<path d="M185.28 330.67L187.68 333.07L185.28 335.47L182.88 333.07Z" fill="#c41c2c"/>
<path d="M187.97 329.06L190.37 331.46L187.97 333.86L185.57 331.46Z" fill="#c41c2c"/>
<path d="M176.53 328.79L178.93 331.19L176.53 333.59L174.13 331.19Z" fill="#c41c2c"/>
<rect x="191.86" y="331.30" width="3.0" height="3.0" fill="#37439a"/>
<rect x="192.53" y="334.00" width="3.0" height="3.0" fill="#37439a"/>
<rect x="196.57" y="333.32" width="3.0" height="3.0" fill="#37439a"/>
<rect x="199.26" y="334.67" width="3.0" height="3.0" fill="#37439a"/>
<rect x="196.57" y="339.38" width="3.0" height="3.0" fill="#37439a"/>
<rect x="201.28" y="336.69" width="3.0" height="3.0" fill="#37439a"/>
<rect x="193.88" y="336.69" width="3.0" height="3.0" fill="#37439a"/>
<path d="M214.22 325.02L216.62 327.42L214.22 329.82L211.82 327.42Z" fill="#c41c2c"/>
<path d="M210.18 329.06L212.58 331.46L210.18 333.86L207.78 331.46Z" fill="#c41c2c"/>
<path d="M214.22 328.39L216.62 330.79L214.22 333.19L211.82 330.79Z" fill="#c41c2c"/>
<path d="M218.26 329.06L220.66 331.46L218.26 333.86L215.86 331.46Z" fill="#c41c2c"/>
<path d="M212.87 332.42L215.27 334.82L212.87 337.22L210.47 334.82Z" fill="#c41c2c"/>
<path d="M214.22 335.12L216.62 337.52L214.22 339.92L211.82 337.52Z" fill="#c41c2c"/>
<path d="M208.16 329.06L210.56 331.46L208.16 333.86L205.76 331.46Z" fill="#c41c2c"/>
<rect x="225.10" y="384.70" width="3.0" height="3.0" fill="#37439a"/>
<rect x="232.00" y="383.90" width="3.0" height="3.0" fill="#37439a"/>
<rect x="234.30" y="385.80" width="3.0" height="3.0" fill="#37439a"/>
<rect x="224.00" y="388.10" width="3.0" height="3.0" fill="#37439a"/>
<rect x="227.40" y="388.50" width="3.0" height="3.0" fill="#37439a"/>
<rect x="230.50" y="387.70" width="3.0" height="3.0" fill="#37439a"/>
<rect x="235.90" y="388.90" width="3.0" height="3.0" fill="#37439a"/>
<rect x="233.60" y="390.80" width="3.0" height="3.0" fill="#37439a"/>
<rect x="225.10" y="390.00" width="3.0" height="3.0" fill="#37439a"/>
<rect x="229.70" y="393.90" width="3.0" height="3.0" fill="#37439a"/>
<rect x="228.50" y="385.50" width="3.0" height="3.0" fill="#37439a"/>
<path d="M247.30 367.20L249.70 369.60L247.30 372.00L244.90 369.60Z" fill="#c41c2c"/>
<path d="M245.00 369.90L247.40 372.30L245.00 374.70L242.60 372.30Z" fill="#c41c2c"/>
<path d="M250.00 369.90L252.40 372.30L250.00 374.70L247.60 372.30Z" fill="#c41c2c"/>
<path d="M243.00 372.40L245.40 374.80L243.00 377.20L240.60 374.80Z" fill="#c41c2c"/>
<path d="M247.30 372.40L249.70 374.80L247.30 377.20L244.90 374.80Z" fill="#c41c2c"/>
<path d="M251.50 372.40L253.90 374.80L251.50 377.20L249.10 374.80Z" fill="#c41c2c"/>
<path d="M240.50 374.50L242.90 376.90L240.50 379.30L238.10 376.90Z" fill="#c41c2c"/>
<path d="M254.00 374.50L256.40 376.90L254.00 379.30L251.60 376.90Z" fill="#c41c2c"/>
<path d="M239.70 383.00L242.10 385.40L239.70 387.80L237.30 385.40Z" fill="#c41c2c"/>
<path d="M250.10 382.40L252.50 384.80L250.10 387.20L247.70 384.80Z" fill="#c41c2c"/>
<path d="M246.50 386.40L248.90 388.80L246.50 391.20L244.10 388.80Z" fill="#c41c2c"/>
<path d="M246.50 411.20L248.90 413.60L246.50 416.00L244.10 413.60Z" fill="#c41c2c"/>
<rect x="257.50" y="317.30" width="3.0" height="3.0" fill="#37439a"/>
<rect x="263.20" y="317.30" width="3.0" height="3.0" fill="#37439a"/>
<rect x="266.30" y="317.30" width="3.0" height="3.0" fill="#37439a"/>
<rect x="255.50" y="321.50" width="3.0" height="3.0" fill="#37439a"/>
<rect x="259.50" y="320.50" width="3.0" height="3.0" fill="#37439a"/>
<rect x="264.50" y="320.50" width="3.0" height="3.0" fill="#37439a"/>
<rect x="268.50" y="321.50" width="3.0" height="3.0" fill="#37439a"/>
<rect x="261.30" y="323.40" width="3.0" height="3.0" fill="#37439a"/>
<rect x="266.70" y="325.70" width="3.0" height="3.0" fill="#37439a"/>
<rect x="262.00" y="329.60" width="3.0" height="3.0" fill="#37439a"/>
<rect x="258.00" y="324.00" width="3.0" height="3.0" fill="#37439a"/>
<path d="M277.40 301.80L279.80 304.20L277.40 306.60L275.00 304.20Z" fill="#c41c2c"/>
<path d="M274.50 304.20L276.90 306.60L274.50 309.00L272.10 306.60Z" fill="#c41c2c"/>
<path d="M279.50 304.20L281.90 306.60L279.50 309.00L277.10 306.60Z" fill="#c41c2c"/>
<path d="M283.00 305.40L285.40 307.80L283.00 310.20L280.60 307.80Z" fill="#c41c2c"/>
<path d="M271.50 305.80L273.90 308.20L271.50 310.60L269.10 308.20Z" fill="#c41c2c"/>
<path d="M285.50 306.80L287.90 309.20L285.50 311.60L283.10 309.20Z" fill="#c41c2c"/>
<path d="M276.50 306.80L278.90 309.20L276.50 311.60L274.10 309.20Z" fill="#c41c2c"/>
<path d="M278.50 310.20L280.90 312.60L278.50 315.00L276.10 312.60Z" fill="#c41c2c"/>
<path d="M274.90 315.80L277.30 318.20L274.90 320.60L272.50 318.20Z" fill="#c41c2c"/>
<path d="M281.00 314.40L283.40 316.80L281.00 319.20L278.60 316.80Z" fill="#c41c2c"/>
<path d="M283.00 317.80L285.40 320.20L283.00 322.60L280.60 320.20Z" fill="#c41c2c"/>
<path d="M279.00 321.20L281.40 323.60L279.00 326.00L276.60 323.60Z" fill="#c41c2c"/>
<rect x="294.93" y="320.03" width="3.0" height="3.0" fill="#37439a"/>
<rect x="298.97" y="319.77" width="3.0" height="3.0" fill="#37439a"/>
<rect x="288.88" y="327.44" width="3.0" height="3.0" fill="#37439a"/>
<rect x="292.91" y="326.76" width="3.0" height="3.0" fill="#37439a"/>
<rect x="296.28" y="327.44" width="3.0" height="3.0" fill="#37439a"/>
<rect x="299.64" y="328.11" width="3.0" height="3.0" fill="#37439a"/>
<rect x="290.22" y="331.47" width="3.0" height="3.0" fill="#37439a"/>
<rect x="294.26" y="332.82" width="3.0" height="3.0" fill="#37439a"/>
<rect x="298.30" y="332.15" width="3.0" height="3.0" fill="#37439a"/>
<path d="M304.51 311.73L306.91 314.13L304.51 316.53L302.11 314.13Z" fill="#c41c2c"/>
<path d="M311.24 314.42L313.64 316.82L311.24 319.22L308.84 316.82Z" fill="#c41c2c"/>
<path d="M307.87 319.13L310.27 321.53L307.87 323.93L305.47 321.53Z" fill="#c41c2c"/>
<path d="M311.91 319.81L314.31 322.21L311.91 324.61L309.51 322.21Z" fill="#c41c2c"/>
<path d="M315.95 319.13L318.35 321.53L315.95 323.93L313.55 321.53Z" fill="#c41c2c"/>
<path d="M307.87 325.19L310.27 327.59L307.87 329.99L305.47 327.59Z" fill="#c41c2c"/>
<path d="M311.91 325.86L314.31 328.26L311.91 330.66L309.51 328.26Z" fill="#c41c2c"/>
<path d="M315.28 325.19L317.68 327.59L315.28 329.99L312.88 327.59Z" fill="#c41c2c"/>
<rect x="327.20" y="391.70" width="3.0" height="3.0" fill="#37439a"/>
<rect x="322.00" y="396.00" width="3.0" height="3.0" fill="#37439a"/>
<rect x="325.50" y="395.50" width="3.0" height="3.0" fill="#37439a"/>
<rect x="329.50" y="396.00" width="3.0" height="3.0" fill="#37439a"/>
<rect x="333.00" y="398.00" width="3.0" height="3.0" fill="#37439a"/>
<rect x="320.30" y="398.50" width="3.0" height="3.0" fill="#37439a"/>
<rect x="324.50" y="398.70" width="3.0" height="3.0" fill="#37439a"/>
<rect x="329.00" y="398.70" width="3.0" height="3.0" fill="#37439a"/>
<rect x="322.50" y="400.70" width="3.0" height="3.0" fill="#37439a"/>
<rect x="329.50" y="400.70" width="3.0" height="3.0" fill="#37439a"/>
<rect x="332.50" y="400.00" width="3.0" height="3.0" fill="#37439a"/>
<rect x="327.00" y="402.50" width="3.0" height="3.0" fill="#37439a"/>
<rect x="327.00" y="407.50" width="3.0" height="3.0" fill="#37439a"/>
<rect x="331.80" y="407.50" width="3.0" height="3.0" fill="#37439a"/>
<path d="M344.20 373.10L346.60 375.50L344.20 377.90L341.80 375.50Z" fill="#c41c2c"/>
<path d="M344.20 382.40L346.60 384.80L344.20 387.20L341.80 384.80Z" fill="#c41c2c"/>
<path d="M341.50 385.10L343.90 387.50L341.50 389.90L339.10 387.50Z" fill="#c41c2c"/>
<path d="M346.50 385.10L348.90 387.50L346.50 389.90L344.10 387.50Z" fill="#c41c2c"/>
<path d="M339.00 387.60L341.40 390.00L339.00 392.40L336.60 390.00Z" fill="#c41c2c"/>
<path d="M344.00 387.10L346.40 389.50L344.00 391.90L341.60 389.50Z" fill="#c41c2c"/>
<path d="M349.00 387.60L351.40 390.00L349.00 392.40L346.60 390.00Z" fill="#c41c2c"/>
<path d="M337.00 389.10L339.40 391.50L337.00 393.90L334.60 391.50Z" fill="#c41c2c"/>
<path d="M343.00 390.40L345.40 392.80L343.00 395.20L340.60 392.80Z" fill="#c41c2c"/>
<path d="M350.00 389.90L352.40 392.30L350.00 394.70L347.60 392.30Z" fill="#c41c2c"/>
<path d="M342.00 401.90L344.40 404.30L342.00 406.70L339.60 404.30Z" fill="#c41c2c"/>
<path d="M347.50 399.20L349.90 401.60L347.50 404.00L345.10 401.60Z" fill="#c41c2c"/>
<rect x="359.50" y="324.00" width="3.0" height="3.0" fill="#37439a"/>
<rect x="364.00" y="324.00" width="3.0" height="3.0" fill="#37439a"/>
<rect x="353.00" y="327.00" width="3.0" height="3.0" fill="#37439a"/>
<rect x="356.50" y="327.00" width="3.0" height="3.0" fill="#37439a"/>
<rect x="360.50" y="327.00" width="3.0" height="3.0" fill="#37439a"/>
<rect x="364.50" y="327.00" width="3.0" height="3.0" fill="#37439a"/>
<rect x="367.50" y="327.30" width="3.0" height="3.0" fill="#37439a"/>
<rect x="355.00" y="330.20" width="3.0" height="3.0" fill="#37439a"/>
<rect x="359.50" y="330.20" width="3.0" height="3.0" fill="#37439a"/>
<rect x="359.20" y="336.60" width="3.0" height="3.0" fill="#37439a"/>
<path d="M375.90 315.10L378.30 317.50L375.90 319.90L373.50 317.50Z" fill="#c41c2c"/>
<path d="M373.50 317.60L375.90 320.00L373.50 322.40L371.10 320.00Z" fill="#c41c2c"/>
<path d="M378.50 317.60L380.90 320.00L378.50 322.40L376.10 320.00Z" fill="#c41c2c"/>
<path d="M370.00 320.10L372.40 322.50L370.00 324.90L367.60 322.50Z" fill="#c41c2c"/>
<path d="M375.00 320.10L377.40 322.50L375.00 324.90L372.60 322.50Z" fill="#c41c2c"/>
<path d="M380.00 320.10L382.40 322.50L380.00 324.90L377.60 322.50Z" fill="#c41c2c"/>
<path d="M383.50 320.60L385.90 323.00L383.50 325.40L381.10 323.00Z" fill="#c41c2c"/>
<path d="M377.00 322.60L379.40 325.00L377.00 327.40L374.60 325.00Z" fill="#c41c2c"/>
<path d="M381.00 324.10L383.40 326.50L381.00 328.90L378.60 326.50Z" fill="#c41c2c"/>
<path d="M380.00 325.10L382.40 327.50L380.00 329.90L377.60 327.50Z" fill="#c41c2c"/>
<path d="M376.20 329.80L378.60 332.20L376.20 334.60L373.80 332.20Z" fill="#c41c2c"/>
<rect x="387.70" y="355.70" width="3.0" height="3.0" fill="#37439a"/>
<rect x="385.00" y="359.50" width="3.0" height="3.0" fill="#37439a"/>
<rect x="390.50" y="358.50" width="3.0" height="3.0" fill="#37439a"/>
<rect x="395.50" y="359.00" width="3.0" height="3.0" fill="#37439a"/>
<rect x="398.50" y="361.00" width="3.0" height="3.0" fill="#37439a"/>
<rect x="385.50" y="363.00" width="3.0" height="3.0" fill="#37439a"/>
<rect x="392.00" y="363.50" width="3.0" height="3.0" fill="#37439a"/>
<rect x="396.50" y="363.00" width="3.0" height="3.0" fill="#37439a"/>
<rect x="392.00" y="366.00" width="3.0" height="3.0" fill="#37439a"/>
<rect x="388.00" y="361.00" width="3.0" height="3.0" fill="#37439a"/>
<rect x="394.00" y="361.00" width="3.0" height="3.0" fill="#37439a"/>
<path d="M401.70 339.10L404.10 341.50L401.70 343.90L399.30 341.50Z" fill="#c41c2c"/>
<path d="M408.80 346.30L411.20 348.70L408.80 351.10L406.40 348.70Z" fill="#c41c2c"/>
<path d="M408.80 351.10L411.20 353.50L408.80 355.90L406.40 353.50Z" fill="#c41c2c"/>
<path d="M404.00 353.60L406.40 356.00L404.00 358.40L401.60 356.00Z" fill="#c41c2c"/>
<path d="M408.80 353.60L411.20 356.00L408.80 358.40L406.40 356.00Z" fill="#c41c2c"/>
<path d="M413.50 353.60L415.90 356.00L413.50 358.40L411.10 356.00Z" fill="#c41c2c"/>
<path d="M401.50 355.10L403.90 357.50L401.50 359.90L399.10 357.50Z" fill="#c41c2c"/>
<path d="M416.00 355.10L418.40 357.50L416.00 359.90L413.60 357.50Z" fill="#c41c2c"/>
<path d="M406.00 356.60L408.40 359.00L406.00 361.40L403.60 359.00Z" fill="#c41c2c"/>
<path d="M411.00 356.60L413.40 359.00L411.00 361.40L408.60 359.00Z" fill="#c41c2c"/>
<path d="M408.80 358.60L411.20 361.00L408.80 363.40L406.40 361.00Z" fill="#c41c2c"/>
<rect x="428.30" y="363.60" width="3.0" height="3.0" fill="#37439a"/>
<rect x="424.30" y="366.20" width="3.0" height="3.0" fill="#37439a"/>
<rect x="427.20" y="371.40" width="3.0" height="3.0" fill="#37439a"/>
<rect x="418.50" y="375.00" width="3.0" height="3.0" fill="#37439a"/>
<rect x="422.50" y="374.00" width="3.0" height="3.0" fill="#37439a"/>
<rect x="426.50" y="374.50" width="3.0" height="3.0" fill="#37439a"/>
<rect x="430.50" y="375.00" width="3.0" height="3.0" fill="#37439a"/>
<rect x="420.50" y="377.00" width="3.0" height="3.0" fill="#37439a"/>
<rect x="428.50" y="376.50" width="3.0" height="3.0" fill="#37439a"/>
<rect x="424.30" y="379.90" width="3.0" height="3.0" fill="#37439a"/>
<rect x="428.90" y="379.30" width="3.0" height="3.0" fill="#37439a"/>
<path d="M440.90 356.40L443.30 358.80L440.90 361.20L438.50 358.80Z" fill="#c41c2c"/>
<path d="M440.90 359.60L443.30 362.00L440.90 364.40L438.50 362.00Z" fill="#c41c2c"/>
<path d="M439.00 362.10L441.40 364.50L439.00 366.90L436.60 364.50Z" fill="#c41c2c"/>
<path d="M443.00 362.10L445.40 364.50L443.00 366.90L440.60 364.50Z" fill="#c41c2c"/>
<path d="M435.50 364.40L437.90 366.80L435.50 369.20L433.10 366.80Z" fill="#c41c2c"/>
<path d="M440.00 364.10L442.40 366.50L440.00 368.90L437.60 366.50Z" fill="#c41c2c"/>
<path d="M446.00 364.10L448.40 366.50L446.00 368.90L443.60 366.50Z" fill="#c41c2c"/>
<path d="M449.00 364.60L451.40 367.00L449.00 369.40L446.60 367.00Z" fill="#c41c2c"/>
<path d="M437.50 366.10L439.90 368.50L437.50 370.90L435.10 368.50Z" fill="#c41c2c"/>
<path d="M441.50 367.30L443.90 369.70L441.50 372.10L439.10 369.70Z" fill="#c41c2c"/>
<path d="M445.00 366.10L447.40 368.50L445.00 370.90L442.60 368.50Z" fill="#c41c2c"/>
<line x1="60.13" y1="427.50" x2="77.19" y2="427.50" stroke="#3848aa" stroke-width="2.6" />
<line x1="75.05" y1="399.15" x2="92.11" y2="399.15" stroke="#d01e28" stroke-width="2.6" />
<line x1="93.17" y1="388.06" x2="109.16" y2="388.06" stroke="#3848aa" stroke-width="2.6" />
<line x1="107.03" y1="372.50" x2="124.08" y2="372.50" stroke="#d01e28" stroke-width="2.6" />
<line x1="125.20" y1="426.01" x2="142.25" y2="426.01" stroke="#3848aa" stroke-width="2.6" />
<line x1="140.12" y1="396.59" x2="157.17" y2="396.59" stroke="#d01e28" stroke-width="2.6" />
<line x1="159.71" y1="334.82" x2="173.84" y2="334.82" stroke="#3848aa" stroke-width="2.6" />
<line x1="173.84" y1="331.46" x2="189.99" y2="331.46" stroke="#d01e28" stroke-width="2.6" />
<line x1="190.67" y1="337.52" x2="206.82" y2="337.52" stroke="#3848aa" stroke-width="2.6" />
<line x1="206.14" y1="331.46" x2="222.29" y2="331.46" stroke="#d01e28" stroke-width="2.6" />
<line x1="223.50" y1="389.80" x2="239.00" y2="389.80" stroke="#3848aa" stroke-width="2.6" />
<line x1="238.20" y1="376.90" x2="255.00" y2="376.90" stroke="#d01e28" stroke-width="2.6" />
<line x1="255.40" y1="323.00" x2="271.50" y2="323.00" stroke="#3848aa" stroke-width="2.6" />
<line x1="270.20" y1="309.20" x2="287.00" y2="309.20" stroke="#d01e28" stroke-width="2.6" />
<line x1="288.36" y1="330.69" x2="303.84" y2="330.69" stroke="#3848aa" stroke-width="2.6" />
<line x1="303.84" y1="321.53" x2="319.99" y2="321.53" stroke="#d01e28" stroke-width="2.6" />
<line x1="321.50" y1="400.10" x2="337.00" y2="400.10" stroke="#3848aa" stroke-width="2.6" />
<line x1="335.00" y1="391.10" x2="352.00" y2="391.10" stroke="#d01e28" stroke-width="2.6" />
<line x1="353.50" y1="328.50" x2="369.50" y2="328.50" stroke="#3848aa" stroke-width="2.6" />
<line x1="368.00" y1="322.90" x2="384.00" y2="322.90" stroke="#d01e28" stroke-width="2.6" />
<line x1="384.80" y1="363.20" x2="401.80" y2="363.20" stroke="#3848aa" stroke-width="2.6" />
<line x1="400.46" y1="356.75" x2="417.27" y2="356.75" stroke="#d01e28" stroke-width="2.6" />
<line x1="417.71" y1="376.48" x2="434.37" y2="376.48" stroke="#3848aa" stroke-width="2.6" />
<line x1="433.35" y1="367.27" x2="449.86" y2="367.27" stroke="#d01e28" stroke-width="2.6" />
<line x1="58.50" y1="294.70" x2="58.50" y2="453.60" stroke="#000" stroke-width="2.6" />
<line x1="57.10" y1="452.60" x2="454.20" y2="452.60" stroke="#000" stroke-width="2.2" />
<line x1="53.20" y1="295.60" x2="58.30" y2="295.60" stroke="#000" stroke-width="2" />
<text x="52.70" y="299.90" font-size="11" font-weight="bold" font-style="normal" text-anchor="end" fill="#000">8192</text>
<line x1="53.20" y1="315.80" x2="58.30" y2="315.80" stroke="#000" stroke-width="2" />
<text x="52.70" y="320.10" font-size="11" font-weight="bold" font-style="normal" text-anchor="end" fill="#000">4096</text>
<line x1="53.20" y1="335.00" x2="58.30" y2="335.00" stroke="#000" stroke-width="2" />
<text x="52.70" y="339.30" font-size="11" font-weight="bold" font-style="normal" text-anchor="end" fill="#000">2048</text>
<line x1="53.20" y1="355.00" x2="58.30" y2="355.00" stroke="#000" stroke-width="2" />
<text x="52.70" y="359.30" font-size="11" font-weight="bold" font-style="normal" text-anchor="end" fill="#000">1024</text>
<line x1="53.20" y1="374.60" x2="58.30" y2="374.60" stroke="#000" stroke-width="2" />
<text x="52.70" y="378.90" font-size="11" font-weight="bold" font-style="normal" text-anchor="end" fill="#000">512</text>
<line x1="53.20" y1="394.30" x2="58.30" y2="394.30" stroke="#000" stroke-width="2" />
<text x="52.70" y="398.60" font-size="11" font-weight="bold" font-style="normal" text-anchor="end" fill="#000">256</text>
<line x1="53.20" y1="414.00" x2="58.30" y2="414.00" stroke="#000" stroke-width="2" />
<text x="52.70" y="418.30" font-size="11" font-weight="bold" font-style="normal" text-anchor="end" fill="#000">128</text>
<line x1="53.20" y1="433.30" x2="58.30" y2="433.30" stroke="#000" stroke-width="2" />
<text x="52.70" y="437.60" font-size="11" font-weight="bold" font-style="normal" text-anchor="end" fill="#000">64</text>
<line x1="53.20" y1="452.60" x2="58.30" y2="452.60" stroke="#000" stroke-width="2" />
<text x="52.70" y="456.90" font-size="11" font-weight="bold" font-style="normal" text-anchor="end" fill="#000">32</text>
<text x="72.90" y="457.40" font-size="11.45" font-weight="bold" font-style="normal" text-anchor="end" fill="#000" transform="rotate(-90 72.90 457.40)">CXCL1</text>
<text x="104.20" y="457.40" font-size="11.45" font-weight="bold" font-style="normal" text-anchor="end" fill="#000" transform="rotate(-90 104.20 457.40)">MMP9</text>
<text x="136.60" y="457.40" font-size="11.45" font-weight="bold" font-style="normal" text-anchor="end" fill="#000" transform="rotate(-90 136.60 457.40)">JAG1</text>
<text x="169.40" y="457.40" font-size="11.45" font-weight="bold" font-style="normal" text-anchor="end" fill="#000" transform="rotate(-90 169.40 457.40)">STAU</text>
<text x="201.30" y="457.40" font-size="11.45" font-weight="bold" font-style="normal" text-anchor="end" fill="#000" transform="rotate(-90 201.30 457.40)">STAU</text>
<text x="233.60" y="457.40" font-size="11.45" font-weight="bold" font-style="normal" text-anchor="end" fill="#000" transform="rotate(-90 233.60 457.40)">TRAM2</text>
<text x="265.90" y="457.40" font-size="11.45" font-weight="bold" font-style="normal" text-anchor="end" fill="#000" transform="rotate(-90 265.90 457.40)">PPIB</text>
<text x="298.20" y="457.40" font-size="11.45" font-weight="bold" font-style="normal" text-anchor="end" fill="#000" transform="rotate(-90 298.20 457.40)">p44S10</text>
<text x="331.20" y="457.40" font-size="11.45" font-weight="bold" font-style="normal" text-anchor="end" fill="#000" transform="rotate(-90 331.20 457.40)">CGI-96</text>
<text x="362.40" y="457.40" font-size="11.45" font-weight="bold" font-style="normal" text-anchor="end" fill="#000" transform="rotate(-90 362.40 457.40)">PSMA7</text>
<text x="394.70" y="457.40" font-size="11.45" font-weight="bold" font-style="normal" text-anchor="end" fill="#000" transform="rotate(-90 394.70 457.40)">SEC24C</text>
<text x="427.80" y="457.40" font-size="11.45" font-weight="bold" font-style="normal" text-anchor="end" fill="#000" transform="rotate(-90 427.80 457.40)">MGC2963</text>
<text x="17.80" y="450.40" font-size="12.9" font-weight="bold" font-style="normal" text-anchor="start" fill="#000" transform="rotate(-90 17.80 450.40)">Scaled Gene Expression</text>
<line x1="96.30" y1="592.00" x2="96.30" y2="709.50" stroke="#5a5a5a" stroke-width="1" stroke-dasharray="1 1"/>
<line x1="137.60" y1="592.00" x2="137.60" y2="709.50" stroke="#5a5a5a" stroke-width="1" stroke-dasharray="1 1"/>
<circle cx="68.50" cy="604.80" r="1.4" fill="#2b3590"/>
<circle cx="68.50" cy="611.00" r="1.4" fill="#2b3590"/>
<circle cx="68.50" cy="628.30" r="1.4" fill="#2b3590"/>
<circle cx="68.50" cy="635.90" r="1.4" fill="#2b3590"/>
<circle cx="68.50" cy="639.40" r="1.4" fill="#2b3590"/>
<circle cx="64.50" cy="642.80" r="1.4" fill="#2b3590"/>
<circle cx="72.00" cy="642.80" r="1.4" fill="#2b3590"/>
<circle cx="68.50" cy="646.30" r="1.4" fill="#2b3590"/>
<circle cx="85.10" cy="607.90" r="1.55" fill="#c8141f"/>
<circle cx="87.70" cy="609.10" r="1.55" fill="#c8141f"/>
<circle cx="89.20" cy="606.20" r="1.55" fill="#c8141f"/>
<circle cx="90.90" cy="608.80" r="1.55" fill="#c8141f"/>
<circle cx="87.50" cy="607.50" r="1.55" fill="#c8141f"/>
<circle cx="87.70" cy="616.80" r="1.55" fill="#c8141f"/>
<circle cx="87.70" cy="619.60" r="1.55" fill="#c8141f"/>
<circle cx="86.00" cy="621.50" r="1.55" fill="#c8141f"/>
<circle cx="89.50" cy="621.50" r="1.55" fill="#c8141f"/>
<circle cx="85.30" cy="624.00" r="1.55" fill="#c8141f"/>
<circle cx="87.70" cy="622.00" r="1.55" fill="#c8141f"/>
<circle cx="90.40" cy="624.20" r="1.55" fill="#c8141f"/>
<circle cx="87.70" cy="625.40" r="1.55" fill="#c8141f"/>
<circle cx="104.71" cy="677.40" r="1.4" fill="#2b3590"/>
<circle cx="108.17" cy="678.27" r="1.4" fill="#2b3590"/>
<circle cx="111.63" cy="677.40" r="1.4" fill="#2b3590"/>
<circle cx="107.31" cy="684.32" r="1.4" fill="#2b3590"/>
<circle cx="107.31" cy="688.30" r="1.4" fill="#2b3590"/>
<circle cx="107.31" cy="693.84" r="1.4" fill="#2b3590"/>
<circle cx="111.11" cy="692.46" r="1.4" fill="#2b3590"/>
<circle cx="107.30" cy="680.90" r="1.4" fill="#2b3590"/>
<circle cx="122.02" cy="662.34" r="1.55" fill="#c8141f"/>
<circle cx="127.21" cy="663.55" r="1.55" fill="#c8141f"/>
<circle cx="124.61" cy="667.88" r="1.55" fill="#c8141f"/>
<circle cx="128.08" cy="667.02" r="1.55" fill="#c8141f"/>
<circle cx="122.02" cy="677.40" r="1.55" fill="#c8141f"/>
<circle cx="127.21" cy="677.92" r="1.55" fill="#c8141f"/>
<circle cx="127.21" cy="686.57" r="1.55" fill="#c8141f"/>
<circle cx="124.61" cy="671.34" r="1.55" fill="#c8141f"/>
<circle cx="147.11" cy="640.19" r="1.4" fill="#2b3590"/>
<circle cx="143.65" cy="644.00" r="1.4" fill="#2b3590"/>
<circle cx="150.57" cy="643.31" r="1.4" fill="#2b3590"/>
<circle cx="147.11" cy="646.25" r="1.4" fill="#2b3590"/>
<circle cx="143.65" cy="660.09" r="1.4" fill="#2b3590"/>
<circle cx="147.11" cy="660.96" r="1.4" fill="#2b3590"/>
<circle cx="147.11" cy="669.96" r="1.4" fill="#2b3590"/>
<circle cx="150.57" cy="668.23" r="1.4" fill="#2b3590"/>
<circle cx="147.10" cy="651.40" r="1.4" fill="#2b3590"/>
<circle cx="166.15" cy="609.04" r="1.55" fill="#c8141f"/>
<circle cx="166.15" cy="620.29" r="1.55" fill="#c8141f"/>
<circle cx="169.61" cy="620.29" r="1.55" fill="#c8141f"/>
<circle cx="160.96" cy="625.48" r="1.55" fill="#c8141f"/>
<circle cx="166.15" cy="635.86" r="1.55" fill="#c8141f"/>
<circle cx="160.96" cy="639.33" r="1.55" fill="#c8141f"/>
<circle cx="166.15" cy="641.57" r="1.55" fill="#c8141f"/>
<circle cx="166.15" cy="667.02" r="1.55" fill="#c8141f"/>
<circle cx="166.20" cy="630.70" r="1.55" fill="#c8141f"/>
<line x1="61.00" y1="635.90" x2="76.00" y2="635.90" stroke="#3344b0" stroke-width="1.8" />
<line x1="80.00" y1="619.60" x2="95.40" y2="619.60" stroke="#d81a22" stroke-width="1.8" />
<line x1="100.38" y1="680.86" x2="115.10" y2="680.86" stroke="#3344b0" stroke-width="1.8" />
<line x1="119.42" y1="671.34" x2="134.65" y2="671.34" stroke="#d81a22" stroke-width="1.8" />
<line x1="139.33" y1="651.44" x2="154.38" y2="651.44" stroke="#3344b0" stroke-width="1.8" />
<line x1="159.23" y1="630.67" x2="173.94" y2="630.67" stroke="#d81a22" stroke-width="1.8" />
<line x1="57.90" y1="591.90" x2="57.90" y2="710.30" stroke="#000" stroke-width="1.6" />
<line x1="57.10" y1="709.50" x2="178.00" y2="709.50" stroke="#000" stroke-width="1.6" />
<line x1="54.60" y1="592.40" x2="57.90" y2="592.40" stroke="#000" stroke-width="1.5" />
<text x="54.50" y="595.60" font-size="8.5" font-weight="bold" font-style="normal" text-anchor="end" fill="#000">30000</text>
<line x1="54.60" y1="631.57" x2="57.90" y2="631.57" stroke="#000" stroke-width="1.5" />
<text x="54.50" y="634.77" font-size="8.5" font-weight="bold" font-style="normal" text-anchor="end" fill="#000">20000</text>
<line x1="54.60" y1="670.74" x2="57.90" y2="670.74" stroke="#000" stroke-width="1.5" />
<text x="54.50" y="673.94" font-size="8.5" font-weight="bold" font-style="normal" text-anchor="end" fill="#000">10000</text>
<line x1="54.60" y1="709.91" x2="57.90" y2="709.91" stroke="#000" stroke-width="1.5" />
<text x="54.50" y="713.11" font-size="8.5" font-weight="bold" font-style="normal" text-anchor="end" fill="#000">0</text>
<text x="72.05" y="713.75" font-size="8.1" font-weight="bold" font-style="normal" text-anchor="end" fill="#000" transform="rotate(-90 72.05 713.75)">ACTG1</text>
<text x="110.30" y="713.75" font-size="8.1" font-weight="bold" font-style="normal" text-anchor="end" fill="#000" transform="rotate(-90 110.30 713.75)">RGS2</text>
<text x="149.55" y="713.75" font-size="8.1" font-weight="bold" font-style="normal" text-anchor="end" fill="#000" transform="rotate(-90 149.55 713.75)">GAPD</text>
<text x="23.10" y="707.40" font-size="9.65" font-weight="bold" font-style="normal" text-anchor="start" fill="#000" transform="rotate(-90 23.10 707.40)">Scaled Gene Expression</text>
<rect x="263.2" y="637.2" width="18.2" height="14.1" fill="#4250ad" stroke="#36418f" stroke-width="0.8"/>
<path d="M261.8 676L273.3 666.9L284.7 676L273.3 685.1Z" fill="#d8202a" stroke="#b81822" stroke-width="0.8"/>
<text x="306.20" y="649.80" font-size="14.1" font-weight="normal" font-style="italic" text-anchor="start" fill="#000">E.coli</text>
<text x="308.30" y="683.70" font-size="14.1" font-weight="normal" font-style="italic" text-anchor="start" fill="#000">S.aureus</text>
</svg>
</body></html>
